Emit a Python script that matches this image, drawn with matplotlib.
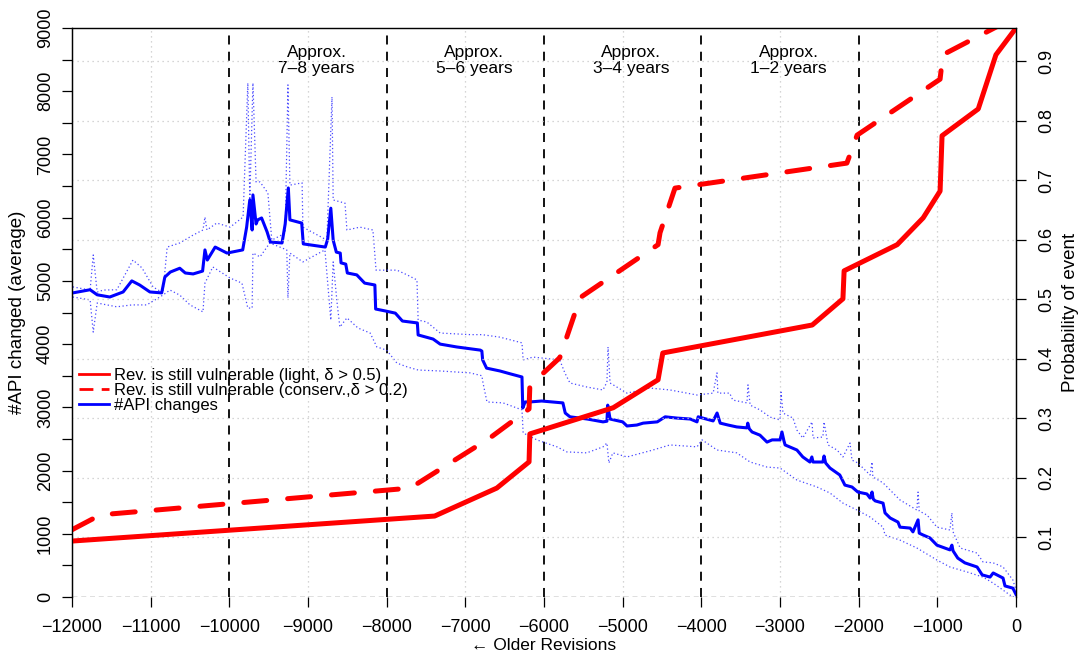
import matplotlib
matplotlib.use('Agg')
from matplotlib import pyplot as plt
from matplotlib.lines import Line2D

plt.rcParams['font.family'] = ['Liberation Sans', 'DejaVu Sans']

# revisions relative to the newest one, mean #API changes
mean_x = [-11990, -11770, -11680, -11520, -11350, -11240, -11140, -11010, -10860, -10820,
          -10750, -10630, -10560, -10460, -10340, -10310, -10280, -10180, -10030, -9830,
          -9780, -9740, -9710, -9700, -9660, -9640, -9590, -9520, -9480, -9330,
          -9290, -9250, -9230, -9080, -9060, -8780, -8750, -8710, -8680, -8640,
          -8590, -8580, -8520, -8500, -8380, -8280, -8150, -8140, -8020, -7890,
          -7800, -7610, -7600, -7410, -7320, -7110, -6810, -6790, -6780, -6730,
          -6560, -6430, -6280, -6270, -6240, -6180, -6030, -5760, -5730, -5670,
          -5450, -5250, -5200, -5190, -5160, -5000, -4945, -4820, -4740, -4560,
          -4460, -4310, -4140, -4055, -4040, -3850, -3800, -3760, -3660, -3550,
          -3420, -3410, -3390, -3355, -3255, -3165, -3100, -3000, -2975, -2950,
          -2935, -2785, -2710, -2620, -2595, -2580, -2455, -2440, -2420, -2365,
          -2240, -2175, -2085, -2010, -1895, -1855, -1830, -1815, -1790, -1690,
          -1665, -1600, -1500, -1475, -1345, -1310, -1245, -1230, -1180, -1095,
          -1005, -840, -815, -800, -740, -650, -495, -430, -330, -290,
          -165, -140, -40, 0]
mean_y = [4810, 4860, 4780, 4745, 4825, 5000, 4935, 4825, 4810, 5060,
          5140, 5200, 5125, 5110, 5155, 5490, 5330, 5535, 5440, 5490,
          5850, 6280, 5805, 6360, 5900, 5965, 5995, 5775, 5615, 5600,
          5900, 6470, 5965, 5915, 5585, 5535, 5660, 6150, 5645, 5455,
          5440, 5285, 5265, 5125, 5095, 4965, 4935, 4555, 4525, 4490,
          4365, 4335, 4145, 4080, 4000, 3955, 3905, 3890, 3750, 3620,
          3575, 3530, 3480, 2990, 3085, 3085, 3100, 3070, 2910, 2850,
          2815, 2770, 2780, 3035, 2815, 2770, 2705, 2720, 2750, 2770,
          2850, 2830, 2815, 2770, 2850, 2785, 2910, 2750, 2720, 2690,
          2675, 2750, 2660, 2610, 2560, 2450, 2485, 2485, 2610, 2470,
          2405, 2325, 2215, 2135, 2215, 2135, 2135, 2230, 2120, 2040,
          1930, 1770, 1740, 1660, 1630, 1565, 1660, 1550, 1520, 1485,
          1330, 1250, 1185, 1105, 1090, 1030, 1220, 1010, 980, 935,
          820, 745, 820, 730, 615, 540, 475, 350, 315, 380,
          300, 175, 140, 40]

# upper / lower band around the mean
upper_x = [-11990, -11770, -11730, -11680, -11600, -11430, -11225, -11110, -10970, -10845,
           -10790, -10630, -10460, -10335, -10310, -10285, -10160, -9990, -9825, -9765,
           -9740, -9700, -9660, -9610, -9510, -9460, -9290, -9255, -9230, -9075,
           -9065, -8760, -8695, -8680, -8530, -8505, -8340, -8175, -8135, -7870,
           -7740, -7615, -7600, -7490, -7320, -6940, -6790, -6560, -6280, -6265,
           -6140, -5800, -5735, -5670, -5450, -5250, -5200, -5186, -5160, -4945,
           -4655, -4400, -4055, -3850, -3801, -3790, -3640, -3600, -3420, -3407,
           -3380, -3255, -3125, -3000, -2987, -2962, -2835, -2785, -2710, -2593,
           -2580, -2455, -2440, -2390, -2275, -2200, -2110, -2085, -2010, -1855,
           -1830, -1820, -1690, -1475, -1260, -1245, -1230, -1130, -1005, -840,
           -815, -800, -710, -495, -420, -290, -165, -40, 0]
upper_y = [4905, 4855, 5410, 4825, 4855, 4860, 5330, 5205, 4905, 4810,
           5535, 5600, 5725, 5805, 6010, 5805, 5915, 5850, 6010, 8130,
           6280, 8130, 6565, 6565, 6390, 5645, 5755, 8100, 6515, 6550,
           5850, 5645, 7910, 6280, 6230, 5805, 5850, 5805, 5170, 5170,
           5095, 5015, 4380, 4350, 4175, 4150, 4150, 4110, 4020, 3750,
           3795, 3750, 3545, 3385, 3320, 3275, 3400, 3955, 3385, 3225,
           3305, 3275, 3195, 3225, 3545, 3225, 3225, 3115, 3070, 3355,
           3035, 2960, 2845, 2800, 3240, 2910, 2830, 2640, 2515, 2770,
           2515, 2530, 2770, 2405, 2325, 2215, 2435, 2165, 2120, 1930,
           2135, 1900, 1805, 1535, 1375, 1660, 1360, 1295, 1105, 1060,
           1330, 1030, 775, 695, 555, 540, 475, 270, 110]

lower_x = [-11990, -11770, -11730, -11680, -11430, -11240, -11050, -10845, -10755, -10630,
           -10500, -10335, -10310, -10210, -9990, -9840, -9765, -9710, -9700, -9610,
           -9485, -9270, -9255, -9230, -9065, -8785, -8710, -8680, -8630, -8595,
           -8505, -8365, -8210, -8125, -8000, -7870, -7740, -7600, -7320, -6940,
           -6790, -6775, -6725, -6520, -6280, -6265, -6090, -5835, -5710, -5455,
           -5250, -5200, -5175, -5125, -4945, -4615, -4400, -4055, -3990, -3800,
           -3550, -3380, -3165, -3000, -2785, -2530, -2365, -2200, -2020, -1855,
           -1690, -1665, -1475, -1260, -1005, -840, -620, -420, -290, -115,
           -40, 0]
lower_y = [4745, 4700, 4190, 4650, 4590, 4620, 4620, 4775, 4855, 4775,
           4620, 4510, 4965, 5220, 5045, 4965, 4570, 4570, 5440, 5380,
           5600, 5490, 4730, 5440, 5300, 5490, 4380, 5300, 4650, 4270,
           4415, 4255, 4175, 3955, 3905, 3700, 3640, 3590, 3575, 3545,
           3500, 3385, 3085, 3070, 2960, 2595, 2485, 2375, 2295, 2280,
           2375, 2435, 2120, 2280, 2215, 2325, 2405, 2375, 2485, 2325,
           2280, 2135, 2055, 2040, 1850, 1740, 1645, 1485, 1375, 1265,
           1105, 980, 900, 775, 585, 475, 395, 315, 220, 65,
           0, 0]

# probability that the revision is still vulnerable
light_x = [-12000, -7390, -6600, -6190, -6180, -5120, -4550, -4490, -2590, -2200,
           -2185, -1510, -1180, -965, -940, -480, -255, 0]
light_p = [0.094, 0.136, 0.183, 0.227, 0.274, 0.318, 0.365, 0.410, 0.457, 0.501,
           0.548, 0.592, 0.637, 0.682, 0.775, 0.820, 0.911, 0.956]

cons_x = [-12000, -11640, -7700, -6690, -6190, -6180, -5800, -5540, -4550, -4525,
          -4335, -2150, -2020, -965, -930, 0]
cons_p = [0.113, 0.138, 0.183, 0.267, 0.316, 0.355, 0.402, 0.503, 0.592, 0.612,
          0.687, 0.729, 0.776, 0.870, 0.911, 0.975]

year_marks = [-10000, -8000, -6000, -4000, -2000]
year_text_x = [-8890, -6890, -4890, -2890]
year_labels = ['Approx.\n7\u20138 years', 'Approx.\n5\u20136 years',
               'Approx.\n3\u20134 years', 'Approx.\n1\u20132 years']

fig = plt.figure(figsize=(10.8, 6.6), dpi=100)
ax = fig.add_axes([72/1080, 63/660, 944/1080, 569/660])
ax2 = ax.twinx()

# grid
for gx in range(-11000, 0, 2000):
    ax.axvline(gx, color='#c8c8c8', lw=0.9, ls=(0, (1, 3)), zorder=0)
for gp in [0.1, 0.2, 0.3, 0.4, 0.5, 0.6, 0.7, 0.8, 0.9]:
    ax2.axhline(gp, color='#c8c8c8', lw=0.9, ls=(0, (1, 3)), zorder=0)
for vx in year_marks:
    ax.axvline(vx, color='black', lw=1.3, ls=(0, (5, 4)), zorder=1)
ax.axhline(0, color='black', lw=0.9, ls=(0, (4, 3)), zorder=1)

ax.plot(upper_x, upper_y, color='#4848ff', lw=0.9, ls=(0, (1, 2)), zorder=2)
ax.plot(lower_x, lower_y, color='#4848ff', lw=0.9, ls=(0, (1, 2)), zorder=2)
ax.plot(mean_x, mean_y, color='blue', lw=2.2, zorder=3)

ax2.plot(light_x, light_p, color='red', lw=3.6, solid_joinstyle='round')
ax2.plot(cons_x, cons_p, color='red', lw=3.6, ls=(0, (4.6, 4.2)),
         dash_capstyle='round', dash_joinstyle='round')

for tx, lab in zip(year_text_x, year_labels):
    ax.text(tx, 8480, lab, ha='center', va='center', fontsize=12.5, linespacing=1.1)

ax.set_xlim(-12000, 0)
ax.set_ylim(0, 9000)
ax2.set_ylim(0, 0.956)

ax.set_xticks(range(-12000, 1, 1000))
ax.set_yticks(range(0, 9001, 1000))
ax.set_yticks(range(500, 9000, 1000), minor=True)
ax2.set_yticks([0.1, 0.2, 0.3, 0.4, 0.5, 0.6, 0.7, 0.8, 0.9])
ax.tick_params(axis='both', which='both', direction='out', length=7, width=0.9, labelsize=13)
ax2.tick_params(axis='y', direction='out', length=7, width=0.9, labelsize=13, pad=9)
ax.tick_params(axis='x', pad=9)
ax.tick_params(axis='y', pad=6)
for lab in ax.get_yticklabels():
    lab.set_rotation(90)
    lab.set_va('center')
for lab in ax2.get_yticklabels():
    lab.set_rotation(90)
    lab.set_va('center')

ax.set_xlabel('\u2190 Older Revisions', fontsize=12.5, labelpad=1)
ax.set_ylabel('#API changed (average)', fontsize=13.5, labelpad=8)
ax2.set_ylabel('Probability of event', fontsize=13.5, labelpad=5)

for a in (ax, ax2):
    a.spines['bottom'].set_visible(False)
    for s in ('top', 'left', 'right'):
        a.spines[s].set_linewidth(0.9)
ax.spines['top'].set_color('#444444')

handles = [Line2D([], [], color='red', lw=2),
           Line2D([], [], color='red', lw=2, ls=(0, (5, 3))),
           Line2D([], [], color='blue', lw=2)]
labels = ['Rev. is still vulnerable (light, \u03b4 > 0.5)',
          'Rev. is still vulnerable (conserv.,\u03b4 > 0.2)',
          '#API changes']
ax2.legend(handles, labels, loc='upper left', bbox_to_anchor=(0.0, 0.414),
           frameon=False, fontsize=12, labelspacing=0.0, handlelength=1.8,
           handletextpad=0.3, borderaxespad=0.2, borderpad=0.2)

fig.savefig('out.png', dpi=100)
